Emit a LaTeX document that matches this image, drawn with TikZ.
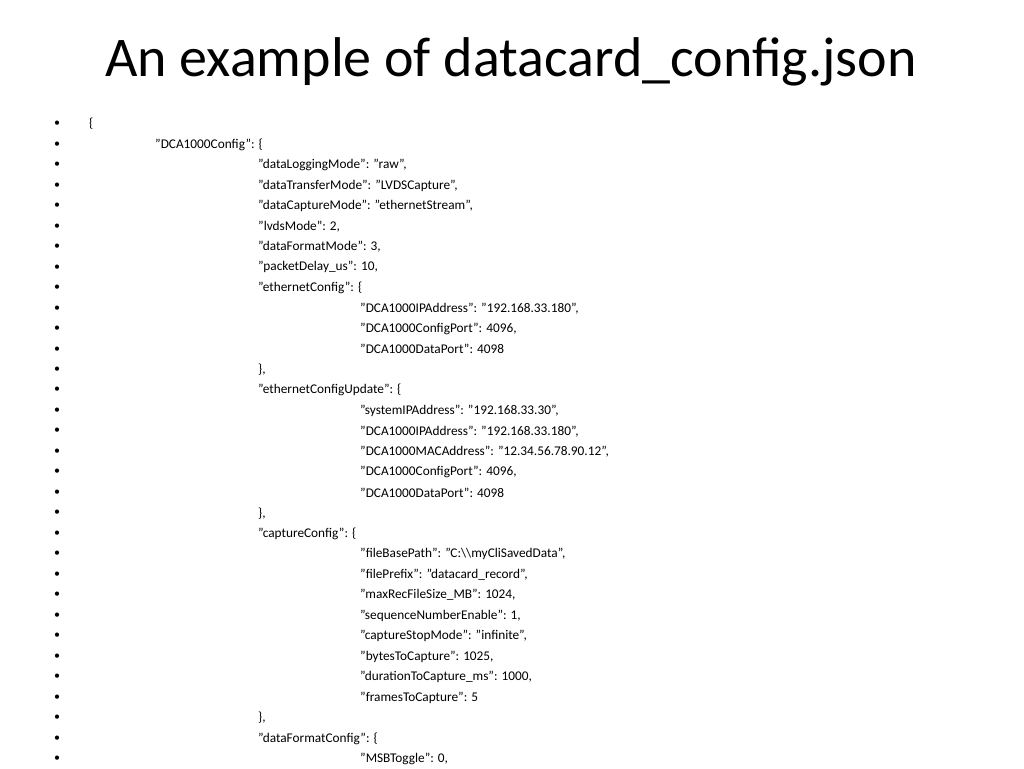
\documentclass[tikz,border=0pt]{standalone}
\usepackage{fontspec}
\defaultfontfeatures{}
\setmainfont{Carlito}
\begin{document}
\begin{tikzpicture}[x=1pt,y=-1pt,
  ln/.style={anchor=west,inner sep=0pt,font=\fontsize{13.3}{15}\selectfont},
  bul/.style={anchor=center,inner sep=0pt,font=\fontsize{12}{14}\selectfont}]
\useasboundingbox (0,0) rectangle (1024,768);
\node[inner sep=0pt,font=\fontsize{56}{60}\selectfont] (title) at (511,62) {An example of datacard\_config.json};
\foreach \lev/\txt [count=\i from 0] in {
0/{\{},
1/{"DCA1000Config": \{},
2/{"dataLoggingMode": "raw",},
2/{"dataTransferMode": "LVDSCapture",},
2/{"dataCaptureMode": "ethernetStream",},
2/{"lvdsMode": 2,},
2/{"dataFormatMode": 3,},
2/{"packetDelay\_us": 10,},
2/{"ethernetConfig": \{},
3/{"DCA1000IPAddress": "192.168.33.180",},
3/{"DCA1000ConfigPort": 4096,},
3/{"DCA1000DataPort": 4098},
2/{\},},
2/{"ethernetConfigUpdate": \{},
3/{"systemIPAddress": "192.168.33.30",},
3/{"DCA1000IPAddress": "192.168.33.180",},
3/{"DCA1000MACAddress": "12.34.56.78.90.12",},
3/{"DCA1000ConfigPort": 4096,},
3/{"DCA1000DataPort": 4098},
2/{\},},
2/{"captureConfig": \{},
3/{"fileBasePath": "C:\textbackslash\textbackslash myCliSavedData",},
3/{"filePrefix": "datacard\_record",},
3/{"maxRecFileSize\_MB": 1024,},
3/{"sequenceNumberEnable": 1,},
3/{"captureStopMode": "infinite",},
3/{"bytesToCapture": 1025,},
3/{"durationToCapture\_ms": 1000,},
3/{"framesToCapture": 5},
2/{\},},
2/{"dataFormatConfig": \{},
3/{"MSBToggle": 0,}}{
  \pgfmathsetmacro\yy{124+\i*20.48}
  \ifcase\lev \def\xx{89}\or \def\xx{155}\or \def\xx{258}\or \def\xx{360}\fi
  \node[bul] (b\i) at (57,\yy) {•};
  \node[ln] (t\i) at (\xx,\yy) {\txt};
}
\end{tikzpicture}
\end{document}
